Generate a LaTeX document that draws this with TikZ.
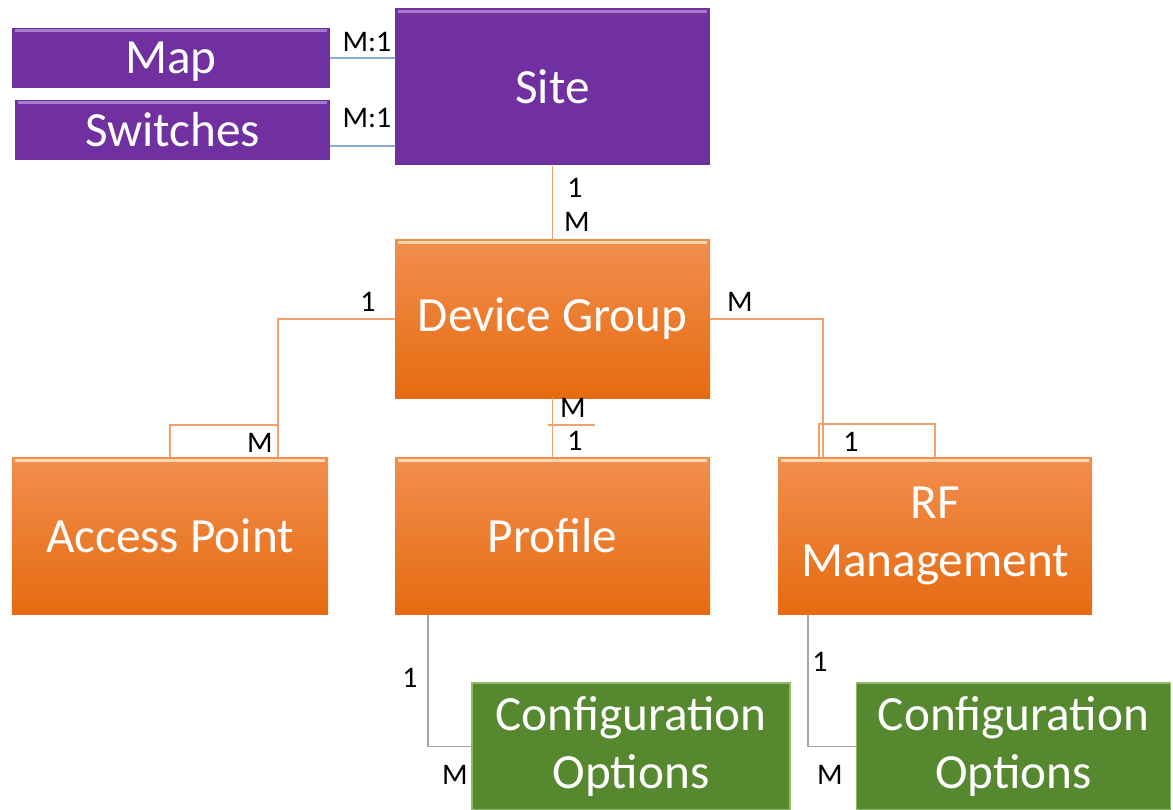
\documentclass[tikz,border=0pt]{standalone}
\usepackage{fontspec}
\setmainfont{Carlito}
\definecolor{sitepurple}{HTML}{7030A0}
\definecolor{purpleedge}{HTML}{A77BCB}
\definecolor{dgtop}{HTML}{F28E4E}
\definecolor{dgbottom}{HTML}{E56B10}
\definecolor{orangeedge}{HTML}{FFD7B0}
\definecolor{cfggreen}{HTML}{56882F}
\definecolor{cfgedge}{HTML}{8DBB6A}
\definecolor{linkorange}{HTML}{F4A06C}
\definecolor{linkblue}{HTML}{8EA9DB}
\definecolor{linkgray}{HTML}{A6A6A6}

\begin{document}
\begin{tikzpicture}[
  box/.style={minimum width=6.3cm, minimum height=3.14cm, align=center, text=white,
    font=\fontsize{28}{33}\selectfont, inner sep=0pt},
  purplebox/.style={box, fill=sitepurple},
  orangebox/.style={box, top color=dgtop, bottom color=dgbottom},
  greenbox/.style={box, fill=cfggreen, draw=cfgedge, line width=0.8pt, minimum height=2.54cm},
  card/.style={font=\fontsize{17}{20}\selectfont, text=black, inner sep=0pt},
  olink/.style={draw=linkorange, line width=0.9pt},
  blink/.style={draw=linkblue, line width=0.9pt},
  glink/.style={draw=linkgray, line width=0.9pt}
]

\useasboundingbox (0,0) rectangle (23.46,-16.2);

% Site and the two things hanging off it
\node[purplebox, minimum width=6.36cm, minimum height=1.2cm, text depth=0pt] (map) at (3.42,-1.16) {Map};
\node[purplebox, minimum width=6.3cm, minimum height=1.2cm] (switches) at (3.45,-2.6) {Switches};
\node[purplebox] (site) at (11.05,-1.74) {Site};

% Device group row
\node[orangebox, minimum height=3.16cm] (dg) at (11.05,-6.38) {Device Group};
\node[orangebox, minimum width=6.32cm] (ap) at (3.4,-10.72) {Access Point};
\node[orangebox] (profile) at (11.05,-10.72) {Profile};
\node[orangebox, minimum width=6.28cm] (rf) at (18.7,-10.72) {RF\\Management};

% Configuration options (bottom, cut off by the page)
\node[greenbox, minimum width=6.36cm] (cfgprofile) at (12.62,-14.93) {Configuration\\Options};
\node[greenbox, minimum width=6.28cm] (cfgrf) at (20.27,-14.93) {Configuration\\Options};

% light bevel along the top edges
\foreach \b/\c in {map/purpleedge,switches/purpleedge,site/purpleedge,dg/orangeedge,ap/orangeedge,profile/orangeedge,rf/orangeedge}
  \draw[\c, line width=1.8pt] ([xshift=0.06cm,yshift=-0.06cm]\b.north west) -- ([xshift=-0.06cm,yshift=-0.06cm]\b.north east);

% Map / Switches -> Site
\draw[blink] (map.east) -- (map.east -| site.west);
\draw[blink] ([yshift=-0.32cm]switches.east) -- ([yshift=-0.32cm]switches.east -| site.west);
\node[card] (mapcard) at (7.34,-0.84) {M:1};
\node[card] (switchcard) at (7.34,-2.36) {M:1};

% Site -> Device Group
\draw[olink] (site.south) -- (dg.north);
\node[card] (sitecard) at (11.5,-3.76) {1};
\node[card] (dgsitecard) at (11.54,-4.44) {M};

% Device Group -> Access Point
\draw[olink] (dg.west) -| ([xshift=2.16cm]ap.north);
\draw[olink] (ap.north) -- ++(0,0.64) -| ([xshift=2.16cm]ap.north);
\node[card] (dgapcard) at (7.36,-6.04) {1};
\node[card] (apcard) at (5.2,-8.86) {M};

% Device Group -> RF Management
\draw[olink] (dg.east) -| ([xshift=-2.24cm]rf.north);
\draw[olink] (rf.north) -- ++(0,0.66) -| ([xshift=-2.32cm]rf.north);
\node[card] (dgrfcard) at (14.8,-6.04) {M};
\node[card] (rfcard) at (17.02,-8.84) {1};

% Device Group -> Profile
\draw[olink] (dg.south) -- (profile.north);
\draw[olink] ([xshift=-0.1cm,yshift=0.64cm]profile.north) -- ++(0.94,0);
\node[card] (dgprofcard) at (11.46,-8.16) {M};
\node[card] (profcard) at (11.5,-8.82) {1};

% Profile / RF -> Configuration options
\draw[glink] ([xshift=-2.49cm]profile.south) |- (cfgprofile.west);
\node[card] (profcfgcard) at (8.2,-13.56) {1};
\node[card] (cfgprofcard) at (9.1,-15.5) {M};
\draw[glink] ([xshift=-2.54cm]rf.south) |- (cfgrf.west);
\node[card] (rfcfgcard) at (16.4,-13.24) {1};
\node[card] (cfgrfcard) at (16.6,-15.5) {M};

\end{tikzpicture}
\end{document}
